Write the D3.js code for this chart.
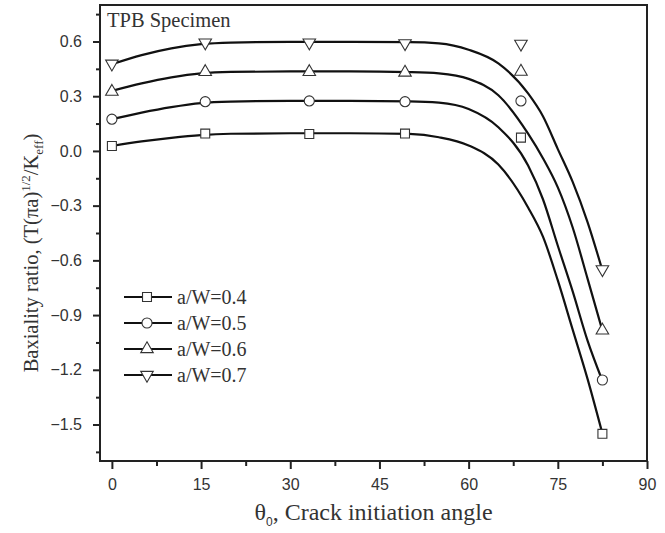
<!DOCTYPE html>
<html>
<head>
<meta charset="utf-8">
<script src="https://cdn.jsdelivr.net/npm/d3@7"></script>
<style>
  body { margin: 0; background: #fff; }
  svg { display: block; }
  .tick text { font-family: 'Liberation Sans', Arial, sans-serif; font-size: 16px; fill: #333; }
  .serif { font-family: 'Liberation Serif', 'Times New Roman', serif; fill: #333; }
</style>
</head>
<body>
<div id="chart"></div>
<script>
// measured points (crack initiation angle, deg)
var angles = [0, 15.7, 33.2, 49.3, 68.8, 82.5];
var labels = ['a/W=0.4', 'a/W=0.5', 'a/W=0.6', 'a/W=0.7'];
var points04 = [0.027, 0.095, 0.093, 0.095, 0.073, -1.551];
var points05 = [0.174, 0.270, 0.274, 0.270, 0.274, -1.256];
var points06 = [0.325, 0.433, 0.433, 0.430, 0.435, -0.984];
var points07 = [0.478, 0.594, 0.594, 0.590, 0.587, -0.649];

// fitted curves
var fitAngles = [0, 5, 10, 15, 20, 30, 40, 50, 55, 60, 65, 70, 72.5, 75, 77.5, 80, 82.5];
var fit04 = [0.027, 0.052, 0.072, 0.087, 0.094, 0.097, 0.097, 0.093, 0.075, 0.030, -0.075, -0.31, -0.47, -0.71, -0.98, -1.25, -1.55];
var fit05 = [0.174, 0.210, 0.240, 0.262, 0.270, 0.274, 0.274, 0.272, 0.265, 0.230, 0.130, -0.08, -0.265, -0.52, -0.77, -1.04, -1.26];
var fit06 = [0.329, 0.370, 0.403, 0.425, 0.433, 0.436, 0.436, 0.432, 0.425, 0.395, 0.305, 0.095, -0.04, -0.20, -0.42, -0.70, -0.985];
var fit07 = [0.475, 0.525, 0.562, 0.585, 0.594, 0.598, 0.598, 0.597, 0.590, 0.555, 0.480, 0.315, 0.19, 0.01, -0.17, -0.39, -0.655];

var xTicks = [0, 15, 30, 45, 60, 75, 90];
var yTicks = [0.6, 0.3, 0.0, -0.3, -0.6, -0.9, -1.2, -1.5];

var points = [points04, points05, points06, points07];
var fits = [fit04, fit05, fit06, fit07];

var W = 665, H = 533;
var margin = {top: 5, right: 18, bottom: 72, left: 100};
var width = W - margin.left - margin.right;
var height = H - margin.top - margin.bottom;

var svg = d3.select('#chart')
  .append('svg')
  .attr('width', W)
  .attr('height', H)
  .append('g')
  .attr('transform', 'translate(' + margin.left + ',' + margin.top + ')');

var x = d3.scaleLinear().domain([-2, 90]).range([0, width]);
var y = d3.scaleLinear().domain([-1.7, 0.8]).range([height, 0]);

var symbols = [
  d3.symbol().type(d3.symbolSquare).size(80),
  d3.symbol().type(d3.symbolCircle).size(80),
  d3.symbol().type(d3.symbolTriangle).size(68),
  d3.symbol().type(d3.symbolTriangle).size(68)
];
var rot = [0, 0, 0, 180];

// minor ticks
var xMinor = d3.range(0, 91, 7.5).filter((v) => xTicks.indexOf(v) < 0);
var yMinor = d3.range(-1.65, 0.8, 0.3).map((v) => +v.toFixed(2));

svg.append('g')
  .attr('transform', 'translate(0,' + height + ')')
  .call(d3.axisBottom(x).tickValues(xMinor).tickSize(5).tickFormat(''))
  .call((g) => g.select('.domain').remove())
  .selectAll('line').attr('stroke', '#222').attr('stroke-width', 2);

svg.append('g')
  .call(d3.axisLeft(y).tickValues(yMinor).tickSize(4).tickFormat(''))
  .call((g) => g.select('.domain').remove())
  .selectAll('line').attr('stroke', '#222').attr('stroke-width', 2);

// major ticks
var xAxis = svg.append('g')
  .attr('transform', 'translate(0,' + height + ')')
  .call(d3.axisBottom(x).tickValues(xTicks).tickSize(8).tickPadding(10).tickFormat(d3.format('d')));
xAxis.select('.domain').remove();
xAxis.selectAll('line').attr('stroke', '#222').attr('stroke-width', 2);

var yAxis = svg.append('g')
  .call(d3.axisLeft(y).tickValues(yTicks).tickSize(7).tickPadding(11).tickFormat(d3.format('.1f')));
yAxis.select('.domain').remove();
yAxis.selectAll('line').attr('stroke', '#222').attr('stroke-width', 2);

// frame
svg.append('rect')
  .attr('x', 0).attr('y', 0)
  .attr('width', width).attr('height', height)
  .attr('fill', 'none')
  .attr('stroke', '#222')
  .attr('stroke-width', 2);

// curves
var line = d3.line()
  .x((d) => x(d[0]))
  .y((d) => y(d[1]))
  .curve(d3.curveMonotoneX);

fits.forEach(function(f) {
  svg.append('path')
    .datum(fitAngles.map((a, i) => [a, f[i]]))
    .attr('d', line)
    .attr('fill', 'none')
    .attr('stroke', '#111')
    .attr('stroke-width', 2.2);
});

// markers
points.forEach(function(p, s) {
  svg.append('g')
    .selectAll('path')
    .data(angles.map((a, i) => [a, p[i]]))
    .enter()
    .append('path')
    .attr('d', symbols[s])
    .attr('transform', (d) => 'translate(' + x(d[0]) + ',' + y(d[1]) + ') rotate(' + rot[s] + ')')
    .attr('fill', '#fff')
    .attr('stroke', '#333')
    .attr('stroke-width', 1.1);
});

// specimen note
svg.append('text')
  .attr('class', 'serif')
  .attr('x', 7)
  .attr('y', 22)
  .style('font-size', '20.5px')
  .text('TPB Specimen');

// legend
var legend = svg.append('g').attr('transform', 'translate(24,292)');
labels.forEach(function(l, i) {
  var row = legend.append('g').attr('transform', 'translate(0,' + (i * 26) + ')');
  row.append('line')
    .attr('x1', 0).attr('x2', 48)
    .attr('stroke', '#111').attr('stroke-width', 2.2);
  row.append('path')
    .attr('d', symbols[i])
    .attr('transform', 'translate(23,0) rotate(' + rot[i] + ')')
    .attr('fill', '#fff')
    .attr('stroke', '#333')
    .attr('stroke-width', 1.1);
  row.append('text')
    .attr('class', 'serif')
    .attr('x', 53)
    .attr('dy', '0.35em')
    .style('font-size', '20px')
    .text(l);
});

// axis titles
var xt = svg.append('text')
  .attr('class', 'serif')
  .attr('x', width / 2)
  .attr('y', height + 59)
  .attr('text-anchor', 'middle')
  .style('font-size', '24px');
xt.append('tspan').text('\u03b8');
xt.append('tspan').attr('dy', 6).style('font-size', '12px').style('font-family', 'Liberation Sans, Arial, sans-serif').text('0');
xt.append('tspan').attr('dy', -6).text(', Crack initiation angle');

var yt = svg.append('text')
  .attr('class', 'serif')
  .attr('transform', 'translate(' + (38 - margin.left) + ',' + (253 - margin.top) + ') rotate(-90)')
  .attr('text-anchor', 'middle')
  .style('font-size', '20.5px');
yt.append('tspan').text('Baxiality ratio, (T(\u03c0a)');
yt.append('tspan').attr('dy', -8).style('font-size', '13px').text('1/2');
yt.append('tspan').attr('dy', 8).text('/K');
yt.append('tspan').attr('dy', 5).style('font-size', '13px').text('eff');
yt.append('tspan').attr('dy', -5).text(')');
</script>
</body>
</html>
